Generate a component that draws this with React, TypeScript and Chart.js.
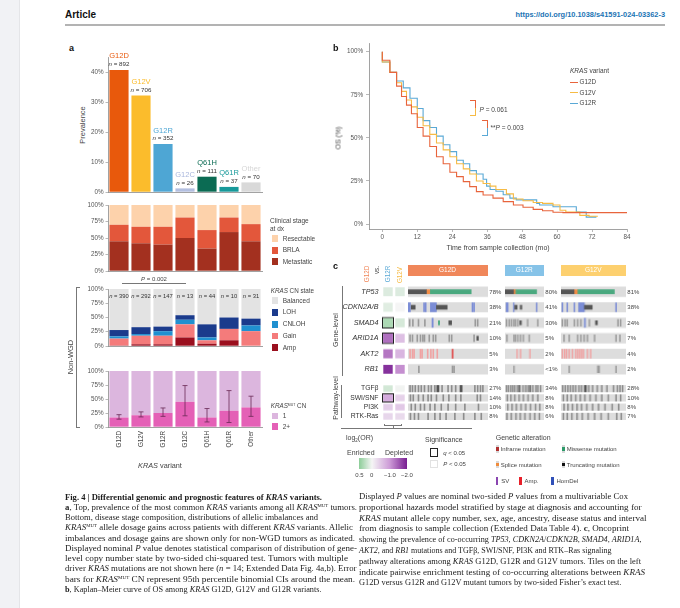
import React, { useEffect, useLayoutEffect, useRef } from "react";
import { Chart, registerables } from "chart.js";

Chart.register(...registerables);

const SANS = "'Liberation Sans', Arial, Helvetica, sans-serif";
const SERIF = "'Liberation Serif', 'Times New Roman', serif";
Chart.defaults.font.family = SANS;

/* ---------------- Panel a data ---------------- */
const variants = ["G12D", "G12V", "G12R", "G12C", "Q61H", "Q61R", "Other"];
const variantCounts = [892, 706, 352, 26, 111, 37, 70];
const prevalencePct = [40.7, 32.2, 16.0, 1.2, 5.1, 1.7, 3.2];
const prevalenceTicks = [0, 10, 20, 30, 40];
const pctTicks = [0, 25, 50, 75, 100];
const variantBarColors = ["#e8590c", "#fbbc2c", "#4ea6d4", "#b3bfe0", "#0b6b53", "#17999a", "#d9d9d9"];
const variantLabelColors = ["#e8590c", "#fbbc2c", "#4ea6d4", "#a8b6dc", "#0b6b53", "#17999a", "#d6d6d6"];

const stageMetastatic = [45, 42, 40, 50, 34, 59, 45];
const stageBRLA = [25, 25, 27, 31, 28, 22, 26];
const stageResectable = [30, 33, 33, 19, 38, 19, 29];

const cnN = [390, 292, 147, 13, 44, 10, 31];
const cnAmp = [1, 3, 3, 15, 4, 10, 0];
const cnGain = [12, 15, 15, 23, 6, 20, 26];
const cnCNLOH = [4, 3, 8, 8, 5, 0, 10];
const cnLOH = [11, 12, 8, 8, 23, 20, 12];
const cnBalanced = [72, 67, 66, 46, 62, 50, 52];

const mutCn2 = [17, 21, 25, 45, 17, 29, 35];
const mutCn1 = [83, 79, 75, 55, 83, 71, 65];
const mutCnLo = [14, 18, 19, 20, 9, 8, 19];
const mutCnHi = [22, 27, 34, 74, 33, 65, 55];

/* ---------------- Panel b data ---------------- */
const kmTimeG12D = [0, 2.6, 4.9, 6.6, 8.3, 10, 12, 14, 16.3, 18.6, 20.9, 23.2, 25.5, 27.8, 30, 32.3, 34.6, 38, 41.5, 45, 48.3, 51.8, 55, 58.6, 62, 65.5, 84];
const kmSurvG12D = [100, 95, 88, 80, 74, 69, 64, 56, 51, 45, 39, 35, 30, 27.5, 24.6, 21.7, 18.8, 16.8, 15, 13, 11, 9.7, 8.5, 7.7, 6.8, 6.6, 6.6];
const kmTimeG12V = [0, 2.6, 4.9, 6.6, 8.3, 10, 12, 14, 16.3, 18.6, 20.9, 23.2, 25.5, 27.8, 30, 32.3, 34.6, 37, 39, 42.6, 45, 48.3, 51.8, 55, 58.6, 61, 63, 64, 67.8, 71, 74];
const kmSurvG12V = [100, 94, 88, 82, 77, 72, 68, 62, 57, 52, 47, 43, 39, 35, 32, 29, 25, 23.5, 22, 20, 17.5, 14.5, 13.5, 12.5, 12, 11, 8, 7, 7, 5, 4.5];
const kmTimeG12R = [0, 2.6, 4.9, 7.2, 9.5, 12, 14, 16.3, 18.6, 20.9, 23.2, 25.5, 27.8, 30, 32.3, 34.6, 35.8, 37, 39, 41.5, 43.8, 46, 48.3, 53, 54, 58.6, 61, 66.6, 66.8, 70, 70.2, 73.5];
const kmSurvG12R = [100, 94, 88, 83, 79, 73, 67, 60, 56, 51, 46, 42, 37, 35, 31, 29, 26, 22, 20, 19, 17, 15, 14, 14, 12, 11, 10, 10, 7, 7, 4, 4];
const kmXTicks = [0, 12, 24, 36, 48, 60, 72, 84];
const kmYTicks = [0, 25, 50, 75, 100];

/* ---------------- Panel c data ---------------- */
const geneRows = ["TP53", "CDKN2A/B", "SMAD4", "ARID1A", "AKT2", "RB1"];
const pathRows = ["TGFβ", "SWI/SNF", "PI3K", "RTK-Ras"];
const genePctG12D = ["78%", "38%", "21%", "10%", "5%", "3%"];
const genePctG12R = ["80%", "41%", "30%", "5%", "2%", "<1%"];
const genePctG12V = ["81%", "38%", "24%", "7%", "4%", "2%"];
const pathPctG12D = ["27%", "14%", "10%", "8%"];
const pathPctG12R = ["34%", "8%", "8%", "6%"];
const pathPctG12V = ["28%", "10%", "8%", "7%"];
const geneOrVsG12R = [0.12, 0.1, 0.35, -1.35, -1.3, -1.85];
const geneOrVsG12V = [0.12, 0.0, 0.15, -0.6, -0.7, -1.1];
const geneSigVsG12R = [false, false, true, true, false, false];
const geneSigVsG12V = [false, false, false, false, false, false];
const pathOrVsG12R = [0.17, -0.85, -0.45, -0.35];
const pathOrVsG12V = [0.02, -0.4, -0.5, -0.3];
const pathSigVsG12R = [false, true, false, false];
const pathSigVsG12V = [false, false, false, false];

type Mark = [string, string, number, number];
const tk = (row: string, type: string, pos: number[], w = 1.2): Mark[] => pos.map((p) => [row, type, p, p + w] as Mark);

const g12dGeneMarks: Mark[] = [
  ["TP53", "trunc", 0, 23], ["TP53", "spl", 23, 28], ["TP53", "mis", 28, 79],
  ["CDKN2A/B", "del", 0, 3], ["CDKN2A/B", "trunc", 4, 9], ["CDKN2A/B", "del", 28, 35.5], ["CDKN2A/B", "trunc", 35.5, 49],
  ...tk("CDKN2A/B", "del", [19.5, 21.5, 80, 82]),
  ...tk("SMAD4", "alt", [1.5, 5.5, 12.5, 20.5, 83.5, 86.5]), ["SMAD4", "del", 30, 31.5], ["SMAD4", "mis", 38, 39.5], ["SMAD4", "trunc", 51, 54.5],
  ...tk("ARID1A", "alt", [2, 5, 11, 15, 18, 20, 26, 31, 34, 51, 54, 82]), ["ARID1A", "trunc", 86, 88],
  ...tk("AKT2", "amp", [2, 5, 7, 15, 17, 24, 28, 31, 36]), ["AKT2", "ampD", 55, 56.5],
  ...tk("RB1", "alt", [13, 55, 57]),
];
const g12rGeneMarks: Mark[] = [
  ["TP53", "trunc", 0, 22], ["TP53", "spl", 22, 28], ["TP53", "mis", 28, 81],
  ["CDKN2A/B", "del", 3, 8], ["CDKN2A/B", "trunc", 25, 31], ["CDKN2A/B", "trunc", 39, 43],
  ...tk("CDKN2A/B", "del", [21.5, 80], 2),
  ...tk("SMAD4", "alt", [3, 10, 16, 22, 26, 32, 57, 83], 2), ["SMAD4", "trunc", 38, 42],
  ...tk("ARID1A", "alt", [4, 22, 26, 32, 39, 46, 61], 2),
  ...tk("AKT2", "amp", [30, 39, 63], 2),
  ...tk("RB1", "alt", [22], 2),
];
const g12vGeneMarks: Mark[] = [
  ["TP53", "trunc", 0, 20], ["TP53", "spl", 20, 26], ["TP53", "mis", 26, 82],
  ["CDKN2A/B", "del", 27, 36], ["CDKN2A/B", "trunc", 36, 48],
  ...tk("CDKN2A/B", "del", [1.5, 9, 20, 84], 1.4),
  ...tk("SMAD4", "alt", [1.5, 5.7, 9, 20, 25, 30, 43, 87, 91], 1.3), ["SMAD4", "del", 36, 37.5], ["SMAD4", "trunc", 53, 56],
  ...tk("ARID1A", "alt", [4, 12, 25, 30, 35, 40, 51, 84, 90], 1.3),
  ...tk("AKT2", "amp", [1.5, 5, 8, 12, 17, 22, 25, 28, 31, 34, 40, 45], 1.3),
  ...tk("RB1", "alt", [12, 56, 58, 84], 1.3),
];
const g12dPathMarks: Mark[] = [
  ...tk("TGFβ", "path", [2, 5, 8.5, 12.5, 16, 20, 25, 28.5, 33, 42, 49.5, 54, 59, 83, 86.5, 90, 93]),
  ...tk("TGFβ", "pathD", [36, 37.5, 65, 66.5]),
  ...tk("SWI/SNF", "path", [2.5, 6, 12.5, 18.5, 24.5, 28.5, 35, 43.5, 50.5, 59, 65.5, 86, 90]),
  ...tk("PI3K", "path", [3.5, 8.5, 15, 20, 27, 33, 41, 49.5, 59, 70.5, 87.5]),
  ...tk("RTK-Ras", "path", [2.5, 7.5, 12.5, 24.5, 33, 39.5, 47, 58, 69, 83, 91]),
];
const g12rPathMarks: Mark[] = [
  ...tk("TGFβ", "path", [3, 8, 14, 19, 24, 31, 45, 52, 58, 70, 78, 83, 90], 2.2),
  ...tk("TGFβ", "pathD", [36, 63], 2.2),
  ...tk("SWI/SNF", "path", [5, 14, 24, 35, 46, 58, 70, 83], 2.2),
  ...tk("PI3K", "path", [6, 17, 28, 40, 52, 64, 77, 88], 2.2),
  ...tk("RTK-Ras", "path", [4, 15, 27, 38, 50, 63, 75, 87], 2.2),
];
const g12vPathMarks: Mark[] = [
  ...tk("TGFβ", "path", [2, 6, 10, 14, 18, 22, 27, 31, 42, 48, 55, 62, 70, 80, 86, 90, 94], 1.4),
  ...tk("TGFβ", "pathD", [36, 37.5], 1.4),
  ...tk("SWI/SNF", "path", [3, 9, 15, 22, 29, 36, 44, 53, 62, 72, 84, 91], 1.4),
  ...tk("PI3K", "path", [4, 10, 17, 24, 31, 39, 48, 57, 67, 78, 88], 1.4),
  ...tk("RTK-Ras", "path", [3, 9, 16, 24, 32, 41, 51, 61, 72, 85, 92], 1.4),
];

/* ---------------- styles ---------------- */
const altStyle: Record<string, { color: string; h: number }> = {
  mis: { color: "#4aa97f", h: 0.42 },
  trunc: { color: "#555555", h: 0.42 },
  spl: { color: "#f28c45", h: 0.42 },
  del: { color: "#7b8dd6", h: 0.95 },
  amp: { color: "#f0a2a2", h: 0.95 },
  ampD: { color: "#e05a5a", h: 0.95 },
  alt: { color: "#9a9a9a", h: 0.7 },
  path: { color: "#8c8c8c", h: 0.95 },
  pathD: { color: "#555555", h: 0.95 },
};
const orStops: [number, number[]][] = [
  [0.5, [140, 205, 152]],
  [0, [245, 245, 245]],
  [-1, [205, 155, 215]],
  [-2, [120, 30, 145]],
];
function orColor(v: number) {
  for (let i = 0; i < orStops.length - 1; i++) {
    const [a, ca] = orStops[i];
    const [b, cb] = orStops[i + 1];
    if (v <= a && v >= b) {
      const f = (a - v) / (a - b);
      const c = ca.map((x, k) => Math.round(x + (cb[k] - x) * f));
      return `rgb(${c[0]},${c[1]},${c[2]})`;
    }
  }
  const c = v > 0.5 ? orStops[0][1] : orStops[3][1];
  return `rgb(${c[0]},${c[1]},${c[2]})`;
}

const tickFont = { family: SANS, size: 6.3 };
const AX = "#8a8a8a";

function pctAxis(min: number, max: number, ticks: number[], width: number, stacked = false) {
  return {
    type: "linear", min, max, stacked,
    afterFit: (s: any) => { s.width = width; s.paddingTop = 0; s.paddingBottom = 0; },
    afterBuildTicks: (s: any) => { s.ticks = ticks.map((v) => ({ value: v })); },
    ticks: { font: tickFont, color: "#555", padding: 2, callback: (v: any) => `${v}%` },
    grid: { drawOnChartArea: false, drawTicks: true, tickLength: 2.5, color: AX, lineWidth: 0.6 },
    border: { display: true, color: AX, width: 0.8 },
  };
}
function catAxis(height: number, stacked = false, labels = false) {
  return {
    type: "category", offset: true, stacked,
    afterFit: (s: any) => { s.height = height; s.paddingLeft = 0; s.paddingRight = 0; },
    grid: { display: false, drawTicks: false },
    border: { display: true, color: AX, width: 0.8 },
    ticks: labels
      ? { display: true, minRotation: 90, maxRotation: 90, autoSkip: false, padding: 4, font: tickFont, color: "#444" }
      : { display: false },
  };
}

function drawNLabel(ctx: CanvasRenderingContext2D, cx: number, cy: number, n: number, size = 6) {
  const a = "n";
  const b = ` = ${n}`;
  ctx.font = `italic ${size}px ${SANS}`;
  const wa = ctx.measureText(a).width;
  ctx.font = `${size}px ${SANS}`;
  const wb = ctx.measureText(b).width;
  const x0 = cx - (wa + wb) / 2;
  ctx.textAlign = "left";
  ctx.textBaseline = "middle";
  ctx.fillStyle = "#333";
  ctx.font = `italic ${size}px ${SANS}`;
  ctx.fillText(a, x0, cy);
  ctx.font = `${size}px ${SANS}`;
  ctx.fillText(b, x0 + wa, cy);
}

const barLabelPlugin = {
  id: "barLabels",
  afterDatasetsDraw(chart: any) {
    const ctx = chart.ctx;
    const meta = chart.getDatasetMeta(0);
    meta.data.forEach((el: any, i: number) => {
      ctx.save();
      ctx.textAlign = "center";
      ctx.textBaseline = "middle";
      ctx.font = `7.5px ${SANS}`;
      ctx.fillStyle = variantLabelColors[i];
      ctx.fillText(variants[i], el.x, el.y - 13.5);
      drawNLabel(ctx, el.x, el.y - 5.5, variantCounts[i], 6.2);
      ctx.restore();
    });
  },
};
const cnNPlugin = {
  id: "cnN",
  afterDatasetsDraw(chart: any) {
    const meta = chart.getDatasetMeta(0);
    const y = chart.scales.y.getPixelForValue(100) + 7;
    chart.ctx.save();
    meta.data.forEach((el: any, i: number) => drawNLabel(chart.ctx, el.x, y, cnN[i], 5.8));
    chart.ctx.restore();
  },
};
const errPlugin = {
  id: "err",
  afterDatasetsDraw(chart: any) {
    const { ctx } = chart;
    const ys = chart.scales.y;
    const meta = chart.getDatasetMeta(0);
    ctx.save();
    ctx.strokeStyle = "#6a2a55";
    ctx.lineWidth = 0.8;
    meta.data.forEach((el: any, i: number) => {
      const x = el.x;
      const y1 = ys.getPixelForValue(mutCnLo[i]);
      const y2 = ys.getPixelForValue(mutCnHi[i]);
      ctx.beginPath();
      ctx.moveTo(x, y1); ctx.lineTo(x, y2);
      ctx.moveTo(x - 2.5, y1); ctx.lineTo(x + 2.5, y1);
      ctx.moveTo(x - 2.5, y2); ctx.lineTo(x + 2.5, y2);
      ctx.stroke();
    });
    ctx.restore();
  },
};

const barDs = (data: number[], color: any) => ({ data, backgroundColor: color, barPercentage: 0.87, categoryPercentage: 1, borderWidth: 0 });

function prevalenceConfig() {
  return {
    type: "bar",
    data: { labels: variants, datasets: [barDs(prevalencePct, variantBarColors)] },
    options: {
      layout: { padding: { left: 0, right: 78, top: 17, bottom: 8 } },
      scales: { x: catAxis(0), y: pctAxis(0, 45, prevalenceTicks, 48) },
    },
    plugins: [barLabelPlugin],
  };
}
function stageConfig() {
  return {
    type: "bar",
    data: {
      labels: variants,
      datasets: [barDs(stageMetastatic, "#a3301f"), barDs(stageBRLA, "#e3573b"), barDs(stageResectable, "#fdd2ab")],
    },
    options: {
      layout: { padding: { left: 0, right: 8, top: 7, bottom: 7 } },
      scales: { x: catAxis(0, true), y: pctAxis(0, 100, pctTicks, 48, true) },
    },
  };
}
function cnConfig() {
  return {
    type: "bar",
    data: {
      labels: variants,
      datasets: [
        barDs(cnAmp, "#9a0f1e"), barDs(cnGain, "#f47b7b"), barDs(cnCNLOH, "#2090d0"),
        barDs(cnLOH, "#1b3b8c"), barDs(cnBalanced, "#e3e3e3"),
      ],
    },
    options: {
      layout: { padding: { left: 0, right: 8, top: 7, bottom: 6 } },
      scales: { x: catAxis(0, true), y: pctAxis(0, 100, pctTicks, 48, true) },
    },
    plugins: [cnNPlugin],
  };
}
function mutConfig() {
  return {
    type: "bar",
    data: { labels: variants, datasets: [barDs(mutCn2, "#e460b6"), barDs(mutCn1, "#dcb6de")] },
    options: {
      layout: { padding: { left: 0, right: 8, top: 7, bottom: 3 } },
      scales: { x: catAxis(30, true, true), y: pctAxis(0, 100, pctTicks, 48, true) },
    },
    plugins: [errPlugin],
  };
}
const kmSeries = [
  { label: "G12D", t: kmTimeG12D, s: kmSurvG12D, color: "#e8643c" },
  { label: "G12V", t: kmTimeG12V, s: kmSurvG12V, color: "#f6bb45" },
  { label: "G12R", t: kmTimeG12R, s: kmSurvG12R, color: "#5aa9d6" },
];
function kmConfig() {
  return {
    type: "line",
    data: {
      datasets: kmSeries.map((k) => ({
        label: k.label,
        data: k.t.map((t, i) => ({ x: t, y: k.s[i] })),
        borderColor: k.color, borderWidth: 1.1, pointRadius: 0, stepped: "after", fill: false,
      })),
    },
    options: {
      layout: { padding: { left: 0, right: 13, top: 3, bottom: 0 } },
      scales: {
        x: {
          type: "linear", min: -4.57, max: 84,
          afterFit: (s: any) => { s.height = 26; s.paddingLeft = 0; s.paddingRight = 0; },
          afterBuildTicks: (s: any) => { s.ticks = kmXTicks.map((v) => ({ value: v })); },
          ticks: { font: tickFont, color: "#555", padding: 1 },
          grid: { drawOnChartArea: false, drawTicks: true, tickLength: 3, color: AX, lineWidth: 0.6 },
          border: { display: true, color: AX, width: 0.8 },
        },
        y: {
          type: "linear", min: -2.9, max: 105.05,
          afterFit: (s: any) => { s.width = 29; s.paddingTop = 0; s.paddingBottom = 0; },
          afterBuildTicks: (s: any) => { s.ticks = kmYTicks.map((v) => ({ value: v })); },
          ticks: { font: tickFont, color: "#555", padding: 3, callback: (v: any) => `${v}%` },
          grid: { drawOnChartArea: false, drawTicks: true, tickLength: 3, color: AX, lineWidth: 0.6 },
          border: { display: true, color: AX, width: 0.8 },
        },
      },
    },
  };
}
function oncoConfig(rows: string[], marks: Mark[], barH: number) {
  const datasets: any[] = Object.keys(altStyle)
    .map((t) => ({
      data: marks.filter((m) => m[1] === t).map((m) => ({ x: [m[2], m[3]], y: m[0] })),
      backgroundColor: altStyle[t].color,
      barThickness: barH * altStyle[t].h,
      grouped: false, borderWidth: 0,
    }))
    .filter((d) => d.data.length > 0);
  datasets.push({
    data: rows.map((r) => ({ x: [0, 100], y: r })),
    backgroundColor: "#dddddd", barThickness: barH, grouped: false, borderWidth: 0,
  });
  return {
    type: "bar",
    data: { labels: rows, datasets },
    options: {
      indexAxis: "y",
      layout: { padding: 0 },
      scales: {
        x: { type: "linear", min: 0, max: 100, display: false },
        y: { type: "category", display: false, offset: true },
      },
    },
  };
}
function tileConfig(rows: string[], orA: number[], orB: number[], sigA: boolean[], sigB: boolean[], barH: number) {
  const mk = (or: number[], sig: boolean[]) => ({
    data: rows.map(() => 1),
    backgroundColor: or.map(orColor),
    borderColor: sig.map((s) => (s ? "#222222" : "#ffffff")),
    borderWidth: sig.map((s) => (s ? 1.1 : 1.3)),
    borderSkipped: false, barThickness: barH, inflateAmount: 0,
  });
  return {
    type: "bar",
    data: { labels: rows, datasets: [mk(orA, sigA), mk(orB, sigB)] },
    options: {
      indexAxis: "y",
      layout: { padding: 0 },
      scales: {
        x: { type: "linear", min: 0, max: 2, stacked: true, display: false },
        y: { type: "category", stacked: true, display: false, offset: true },
      },
    },
  };
}

/* ---------------- components ---------------- */
function ChartCanvas({ left, top, width, height, make }: any) {
  const ref = useRef<HTMLCanvasElement>(null);
  useEffect(() => {
    const cfg: any = make();
    cfg.options = {
      ...(cfg.options || {}),
      responsive: false, maintainAspectRatio: false, animation: false, devicePixelRatio: 1,
      plugins: { legend: { display: false }, tooltip: { enabled: false } },
    };
    const ch = new Chart(ref.current as HTMLCanvasElement, cfg);
    return () => ch.destroy();
  }, []);
  return <canvas ref={ref} width={width} height={height} style={{ position: "absolute", left, top, width, height }} />;
}

function T({ x, y, s = 7, c = "#333", a = "l", b = false, i = false, rot = false, f = SANS, children }: any) {
  const tx = rot ? "-50%" : a === "l" ? "0" : a === "c" ? "-50%" : "-100%";
  return (
    <div
      style={{
        position: "absolute", left: x, top: y, fontSize: s, color: c, fontWeight: b ? 700 : 400,
        fontStyle: i ? "italic" : "normal", fontFamily: f, whiteSpace: "nowrap", lineHeight: 1,
        transform: `translate(${tx},-50%)${rot ? " rotate(-90deg)" : ""}`,
      }}
    >
      {children}
    </div>
  );
}
function Box({ x, y, w, h, c = "transparent", st = {} }: any) {
  return <div style={{ position: "absolute", left: x, top: y, width: w, height: h, background: c, boxSizing: "border-box", ...st }} />;
}
function Sw({ x, y, c, w = 6.7, h = 6.7 }: any) {
  return <Box x={x} y={y - h / 2} w={w} h={h} c={c} />;
}
function FitLine({ x, y, w, bold = false, size = 8.3, children }: any) {
  const ref = useRef<HTMLDivElement>(null);
  useLayoutEffect(() => {
    const el = ref.current as HTMLDivElement;
    el.style.transform = "translateY(-50%)";
    const nat = el.getBoundingClientRect().width;
    if (nat > 0) el.style.transform = `translateY(-50%) scaleX(${w / nat})`;
  }, []);
  return (
    <div
      ref={ref}
      style={{
        position: "absolute", left: x, top: y, fontFamily: SERIF, fontSize: size, fontWeight: bold ? 700 : 400,
        whiteSpace: "nowrap", lineHeight: 1, transformOrigin: "0 50%", color: "#1c1c1c", transform: "translateY(-50%)",
      }}
    >
      {children}
    </div>
  );
}
const Sup = ({ children }: any) => <span style={{ fontSize: "0.55em", verticalAlign: "0.6em", fontStyle: "normal" }}>{children}</span>;

const stageLegend: [string, string][] = [["Resectable", "#fdd2ab"], ["BRLA", "#e3573b"], ["Metastatic", "#a3301f"]];
const cnLegend: [string, string][] = [["Balanced", "#e3e3e3"], ["LOH", "#1b3b8c"], ["CNLOH", "#2090d0"], ["Gain", "#f47b7b"], ["Amp", "#9a0f1e"]];
const mutLegend: [string, string][] = [["1", "#dcb6de"], ["2+", "#e460b6"]];

const GENE_TOP = 284.3, GENE_H = 92.4, GENE_BAR = 9.5;
const PATH_TOP = 383.7, PATH_H = 36.9, PATH_BAR = 6.5;
const groups = [
  { name: "G12D", x: 407.5, w: 80, color: "#f0875a", gm: g12dGeneMarks, pm: g12dPathMarks, gp: genePctG12D, pp: pathPctG12D },
  { name: "G12R", x: 505, w: 38.5, color: "#86c3e8", gm: g12rGeneMarks, pm: g12rPathMarks, gp: genePctG12R, pp: pathPctG12R },
  { name: "G12V", x: 561, w: 64.5, color: "#fdd06f", gm: g12vGeneMarks, pm: g12vPathMarks, gp: genePctG12V, pp: pathPctG12V },
];

export default function App() {
  const geneStep = GENE_H / geneRows.length;
  const pathStep = PATH_H / pathRows.length;
  const leftLines = [
    [<>Fig. 4 | Differential genomic and prognostic features of <i>KRAS</i> variants.</>, 257, true],
    [<><b>a</b>, Top, prevalence of the most common <i>KRAS</i> variants among all <i>KRAS</i><Sup>MUT</Sup> tumors.</>, 292, false],
    [<>Bottom, disease stage composition, distributions of allelic imbalances and</>, 253, false],
    [<><i>KRAS</i><Sup>MUT</Sup> allele dosage gains across patients with different <i>KRAS</i> variants. Allelic</>, 288, false],
    [<>imbalances and dosage gains are shown only for non-WGD tumors as indicated.</>, 290, false],
    [<>Displayed nominal <i>P</i> value denotes statistical comparison of distribution of gene-</>, 292, false],
    [<>level copy number state by two-sided chi-squared test. Tumors with multiple</>, 283, false],
    [<>driver <i>KRAS</i> mutations are not shown here (<i>n</i> = 14; Extended Data Fig. 4a,b). Error</>, 291.5, false],
    [<>bars for <i>KRAS</i><Sup>MUT</Sup> CN represent 95th percentile binomial CIs around the mean.</>, 290, false],
    [<><b>b</b>, Kaplan–Meier curve of OS among <i>KRAS</i> G12D, G12V and G12R variants.</>, 256.5, false],
  ];
  const rightLines = [
    [<>Displayed <i>P</i> values are nominal two-sided <i>P</i> values from a multivariable Cox</>, 269],
    [<>proportional hazards model stratified by stage at diagnosis and accounting for</>, 282.5],
    [<><i>KRAS</i> mutant allele copy number, sex, age, ancestry, disease status and interval</>, 287.5],
    [<>from diagnosis to sample collection (Extended Data Table 4). <b>c</b>, Oncoprint</>, 270],
    [<>showing the prevalence of co-occurring <i>TP53</i>, <i>CDKN2A</i>/<i>CDKN2B</i>, <i>SMAD4</i>, <i>ARID1A</i>,</>, 282.5],
    [<><i>AKT2</i>, and <i>RB1</i> mutations and TGFβ, SWI/SNF, PI3K and RTK–Ras signaling</>, 252.5],
    [<>pathway alterations among <i>KRAS</i> G12D, G12R and G12V tumors. Tiles on the left</>, 282],
    [<>indicate pairwise enrichment testing of co-occurring alterations between <i>KRAS</i></>, 286],
    [<>G12D versus G12R and G12V mutant tumors by two-sided Fisher’s exact test.</>, 262.5],
  ];

  return (
    <div style={{ position: "absolute", left: 0, top: 0, width: 680, height: 608, background: "#fff", overflow: "hidden", fontFamily: SANS }}>
      <Box x={0} y={0} w={20} h={608} c="#f1f2f5" st={{ borderRight: "1px solid #e4e5e8" }} />

      {/* header */}
      <T x={65} y={15} s={10} c="#111" b>Article</T>
      <T x={665} y={15} s={7.4} c="#1b74b4" a="r" b>https://doi.org/10.1038/s41591-024-03362-3</T>
      <Box x={65} y={23.5} w={600} h={2} c="#b3b3b3" />

      {/* ---------- panel a ---------- */}
      <T x={69} y={47.5} s={9} c="#111" b>a</T>
      <T x={82.7} y={125} s={7.5} c="#444" rot>Prevalence</T>
      <ChartCanvas left={60} top={40} width={280} height={160} make={prevalenceConfig} />

      <ChartCanvas left={60} top={198} width={210} height={80} make={stageConfig} />
      <T x={270} y={221} s={6.5} c="#444">Clinical stage</T>
      <T x={270} y={229} s={6.5} c="#444">at dx</T>
      {stageLegend.map(([l, c], k) => (
        <React.Fragment key={l}>
          <Sw x={271.7} y={238.7 + k * 11.5} c={c} />
          <T x={282.7} y={238.7 + k * 11.5} s={6.5} c="#444">{l}</T>
        </React.Fragment>
      ))}

      <Box x={122} y={282.6} w={64} h={0.8} c="#777" />
      <T x={154} y={279.3} s={6} c="#444" a="c"><i>P</i> = 0.002</T>

      <ChartCanvas left={60} top={282} width={210} height={70} make={cnConfig} />
      <T x={270.7} y={290.7} s={6.3} c="#444"><i>KRAS</i> CN state</T>
      {cnLegend.map(([l, c], k) => (
        <React.Fragment key={l}>
          <Sw x={271.7} y={300.7 + k * 11.75} c={c} />
          <T x={282.7} y={300.7 + k * 11.75} s={6.5} c="#444">{l}</T>
        </React.Fragment>
      ))}

      <ChartCanvas left={60} top={364} width={210} height={96} make={mutConfig} />
      <T x={270.7} y={406} s={6.3} c="#444"><i>KRAS</i><Sup>MUT</Sup> CN</T>
      {mutLegend.map(([l, c], k) => (
        <React.Fragment key={l}>
          <Sw x={271.7} y={416 + k * 10.7} c={c} />
          <T x={282.7} y={416 + k * 10.7} s={6.5} c="#444">{l}</T>
        </React.Fragment>
      ))}
      <T x={160} y={466} s={7.3} c="#444" a="c"><i>KRAS</i> variant</T>

      <Box x={76} y={287} w={4} h={140.5} st={{ borderLeft: "0.8px solid #777", borderTop: "0.8px solid #777", borderBottom: "0.8px solid #777" }} />
      <T x={70.5} y={357} s={7.5} c="#444" rot>Non-WGD</T>

      {/* ---------- panel b ---------- */}
      <T x={333} y={47.5} s={9} c="#111" b>b</T>
      <ChartCanvas left={340} top={40} width={300} height={215} make={kmConfig} />
      <T x={337.5} y={138} s={7} c="#444" rot>OS (%)</T>
      <T x={498} y={247.3} s={7} c="#444" a="c">Time from sample collection (mo)</T>
      <T x={570} y={70.7} s={6.5} c="#444"><i>KRAS</i> variant</T>
      {kmSeries.map((k, idx) => (
        <React.Fragment key={k.label}>
          <Box x={570} y={82.3 + idx * 10.5 - 0.6} w={7.5} h={1.2} c={k.color} />
          <T x={579.5} y={82.3 + idx * 10.5} s={6.3} c="#444">{k.label}</T>
        </React.Fragment>
      ))}
      <Box x={470} y={100} w={5.5} h={8} st={{ borderTop: "1.2px solid #e8643c", borderRight: "1.2px solid #e8643c" }} />
      <Box x={470} y={108} w={5.5} h={8} st={{ borderBottom: "1.2px solid #f6bb45", borderRight: "1.2px solid #f6bb45" }} />
      <T x={479.5} y={110} s={6.5} c="#444"><i>P</i> = 0.061</T>
      <Box x={482} y={120} w={5.5} h={8} st={{ borderTop: "1.2px solid #e8643c", borderRight: "1.2px solid #e8643c" }} />
      <Box x={482} y={128} w={5.5} h={8} st={{ borderBottom: "1.2px solid #5aa9d6", borderRight: "1.2px solid #5aa9d6" }} />
      <T x={490.5} y={128.3} s={6.5} c="#444">**<i>P</i> = 0.003</T>

      {/* ---------- panel c ---------- */}
      <T x={333} y={266} s={9} c="#111" b>c</T>
      <T x={366.7} y={273.5} s={6.3} c="#f0875a" rot>G12D</T>
      <T x={376.7} y={270} s={6.3} c="#444" rot>vs.</T>
      <T x={387.5} y={273.5} s={6.3} c="#5aa9d6" rot>G12R</T>
      <T x={400} y={275} s={6.3} c="#f6bb45" rot>G12V</T>
      {groups.map((g) => (
        <React.Fragment key={g.name}>
          <Box x={g.x} y={264.5} w={g.w} h={11} c={g.color} />
          <T x={g.x + g.w / 2} y={270.2} s={6.5} c="#fff" a="c">{g.name}</T>
          <ChartCanvas left={g.x} top={GENE_TOP} width={g.w} height={GENE_H} make={() => oncoConfig(geneRows, g.gm, GENE_BAR)} />
          <ChartCanvas left={g.x} top={PATH_TOP} width={g.w} height={PATH_H} make={() => oncoConfig(pathRows, g.pm, PATH_BAR)} />
          {g.gp.map((p, k) => (
            <T key={"g" + k} x={g.x + g.w + 1.8} y={GENE_TOP + geneStep * (k + 0.5)} s={6} c="#444">{p}</T>
          ))}
          {g.pp.map((p, k) => (
            <T key={"p" + k} x={g.x + g.w + 1.8} y={PATH_TOP + pathStep * (k + 0.5)} s={6} c="#444">{p}</T>
          ))}
        </React.Fragment>
      ))}
      <ChartCanvas left={382} top={GENE_TOP} width={24} height={GENE_H}
        make={() => tileConfig(geneRows, geneOrVsG12R, geneOrVsG12V, geneSigVsG12R, geneSigVsG12V, 11.5)} />
      <ChartCanvas left={382} top={PATH_TOP} width={24} height={PATH_H}
        make={() => tileConfig(pathRows, pathOrVsG12R, pathOrVsG12V, pathSigVsG12R, pathSigVsG12V, 9)} />
      {geneRows.map((r, k) => (
        <T key={r} x={378.5} y={GENE_TOP + geneStep * (k + 0.5)} s={7.2} c="#333" a="r" i>{r}</T>
      ))}
      {pathRows.map((r, k) => (
        <T key={r} x={378.5} y={PATH_TOP + pathStep * (k + 0.5)} s={6.8} c="#333" a="r">{r}</T>
      ))}
      <Box x={341.5} y={285.5} w={0.8} h={90} c="#777" />
      <T x={335} y={330} s={7} c="#444" rot>Gene-level</T>
      <Box x={340.5} y={385} w={0.8} h={33} c="#777" />
      <T x={335} y={398} s={7} c="#444" rot>Pathway-level</T>
      <Box x={384} y={423.5} w={18} h={2.8} st={{ borderLeft: "0.8px solid #777", borderRight: "0.8px solid #777", borderBottom: "0.8px solid #777" }} />
      <Box x={392.6} y={426} w={0.8} h={2.3} c="#777" />
      <Box x={340.5} y={428} w={131} h={0.8} c="#777" />

      {/* legends of c */}
      <T x={346} y={438.5} s={7} c="#444">log<sub style={{ fontSize: 4.5 }}>2</sub>(OR)</T>
      <T x={347} y={452.3} s={7} c="#444">Enriched</T>
      <T x={385} y={452.3} s={7} c="#444">Depleted</T>
      <Box x={359.3} y={458.3} w={47.5} h={11}
        st={{ background: "linear-gradient(to right, rgb(140,205,152) 0%, rgb(245,245,245) 27%, rgb(205,155,215) 64%, rgb(120,30,145) 100%)" }} />
      <T x={359.3} y={475} s={6} c="#444" a="c">0.5</T>
      <T x={371.7} y={475} s={6} c="#444" a="c">0</T>
      <T x={390} y={475} s={6} c="#444" a="c">−1.0</T>
      <T x={407} y={475} s={6} c="#444" a="c">−2.0</T>

      <T x={425} y={438.5} s={7} c="#444">Significance</T>
      <Box x={430} y={448.3} w={8.4} h={8.4} c="#fff" st={{ border: "1.1px solid #222" }} />
      <T x={443.3} y={452.5} s={6} c="#444"><i>q</i> &lt; 0.05</T>
      <Box x={430} y={460} w={8.4} h={8.4} c="#fff" st={{ border: "0.8px solid #e2e2e2" }} />
      <T x={443.3} y={464.2} s={6} c="#444"><i>P</i> &lt; 0.05</T>

      <T x={495.7} y={437} s={7} c="#444">Genetic alteration</T>
      {[
        ["Inframe mutation", "#b03030", 495.7, 449, true],
        ["Missense mutation", "#2e9a6a", 561.7, 449, true],
        ["Splice mutation", "#f08c3c", 495.7, 464.7, true],
        ["Truncating mutation", "#111111", 561.7, 464.7, true],
      ].map(([l, c, x, y]: any) => (
        <React.Fragment key={l}>
          <Box x={x} y={y - 3.8} w={3} h={7.6} c="#d9d9d9" />
          <Box x={x} y={y - 1.8} w={3} h={3.6} c={c} />
          <T x={x + 5} y={y} s={6} c="#444">{l}</T>
        </React.Fragment>
      ))}
      {[
        ["SV", "#8a45b0", 495.7],
        ["Amp.", "#e8202a", 519],
        ["HomDel", "#3050b8", 551],
      ].map(([l, c, x]: any) => (
        <React.Fragment key={l}>
          <Box x={x} y={477} w={2.8} h={8} c={c} />
          <T x={x + 5.5} y={481} s={6} c="#444">{l}</T>
        </React.Fragment>
      ))}

      {/* caption */}
      {leftLines.map(([content, w, bold]: any, k) => (
        <FitLine key={"l" + k} x={65} y={497.5 + k * 10.28} w={w} bold={bold}>{content}</FitLine>
      ))}
      {rightLines.map(([content, w]: any, k) => (
        <FitLine key={"r" + k} x={359} y={497 + k * 10.8} w={w}>{content}</FitLine>
      ))}
    </div>
  );
}
